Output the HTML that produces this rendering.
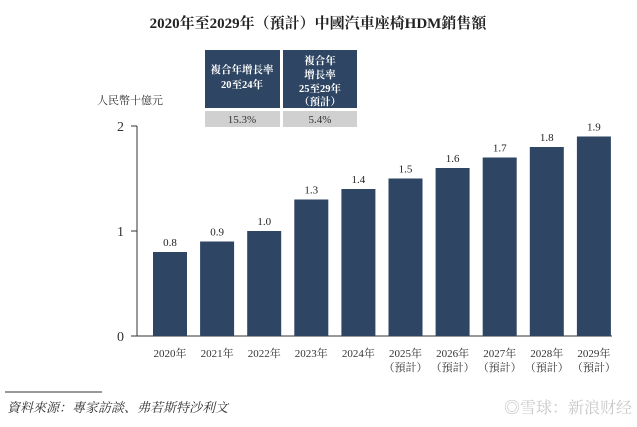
<!DOCTYPE html>
<html><head><meta charset="utf-8"><style>
body{margin:0;background:#fff;font-family:"Liberation Serif","Noto Serif CJK SC",serif;}
svg text{font-family:"Liberation Serif","Noto Serif CJK SC",serif;}
</style></head><body>
<svg width="637" height="422" xmlns="http://www.w3.org/2000/svg">
<text x="318" y="28" text-anchor="middle" font-size="15" font-weight="bold" fill="#222">2020年至2029年（預計）中國汽車座椅HDM銷售額</text>
<text x="97" y="104" font-size="11" fill="#333">人民幣十億元</text>
<g>
<rect x="205" y="50" width="75" height="58" fill="#2e4563"/>
<rect x="283" y="50" width="74" height="58" fill="#2e4563"/>
<text x="242" y="73" text-anchor="middle" font-size="10.5" font-weight="bold" fill="#fff">複合年增長率</text>
<text x="242" y="88" text-anchor="middle" font-size="10.5" font-weight="bold" fill="#fff">20至24年</text>
<text x="320" y="64" text-anchor="middle" font-size="10.5" font-weight="bold" fill="#fff">複合年</text>
<text x="320" y="78" text-anchor="middle" font-size="10.5" font-weight="bold" fill="#fff">增長率</text>
<text x="320" y="92" text-anchor="middle" font-size="10.5" font-weight="bold" fill="#fff">25至29年</text>
<text x="320" y="105" text-anchor="middle" font-size="10.5" font-weight="bold" fill="#fff">（預計）</text>
<rect x="205" y="111" width="75" height="16" fill="#d0d0d0"/>
<rect x="283" y="111" width="74" height="16" fill="#d0d0d0"/>
<text x="242" y="123" text-anchor="middle" font-size="11" fill="#333">15.3%</text>
<text x="320" y="123" text-anchor="middle" font-size="11" fill="#333">5.4%</text>
</g>
<g id="plot"></g>
<line x1="5" y1="392" x2="102" y2="392" stroke="#333" stroke-width="1"/>
<text x="7" y="412" font-size="13" font-style="italic" fill="#333">資料來源：專家訪談、弗若斯特沙利文</text>
<text x="632" y="413" text-anchor="end" font-size="16" font-family="Liberation Sans,Noto Sans CJK SC,sans-serif" fill="#c8c8c8">◎雪球：新浪财经</text>
</svg>
<script>
const years=["2020年","2021年","2022年","2023年","2024年","2025年","2026年","2027年","2028年","2029年"];
const forecast=[false,false,false,false,false,true,true,true,true,true];
const values=[0.8,0.9,1.0,1.3,1.4,1.5,1.6,1.7,1.8,1.9];
const labels=["0.8","0.9","1.0","1.3","1.4","1.5","1.6","1.7","1.8","1.9"];
const ticks=[0,1,2];
const NS="http://www.w3.org/2000/svg";
const g=document.getElementById('plot');
const y0=336,ppu=105,x0=170,step=47.1,bw=34;
const yS=v=>y0-v*ppu, xS=i=>x0+i*step;
function mk(t,a){const e=document.createElementNS(NS,t);for(const k in a)e.setAttribute(k,a[k]);g.appendChild(e);return e;}
const ax=mk('line',{x1:137,y1:yS(2),x2:137,y2:y0,stroke:'#333'});


const bl=mk('line',{x1:137,y1:y0,x2:612,y2:y0,stroke:'#333'});


ticks.forEach(t=>{
 const l=mk('line',{x1:131,y1:yS(t),x2:137,y2:yS(t),stroke:'#333'});
 
 
 const tx=mk('text',{x:124,y:yS(t)+5,'text-anchor':'end','font-size':14,fill:'#333'});
 tx.textContent=t;
 
 
});
values.forEach((v,i)=>{
 const r=mk('rect',{x:xS(i)-bw/2,y:yS(v),width:bw,height:v*ppu,fill:'#2e4563'});
 
 
 const t=mk('text',{x:xS(i),y:yS(v)-6,'text-anchor':'middle','font-size':11,fill:'#222'});
 t.textContent=labels[i];
 
 
 const c=mk('text',{x:xS(i),y:357,'text-anchor':'middle','font-size':11,fill:'#333'});
 c.textContent=years[i];
 
 
 if(forecast[i]){
  const f=mk('text',{x:xS(i),y:371,'text-anchor':'middle','font-size':11,fill:'#333'});
  f.textContent='（預計）';
  
  
 }
});
</script>
</body></html>
